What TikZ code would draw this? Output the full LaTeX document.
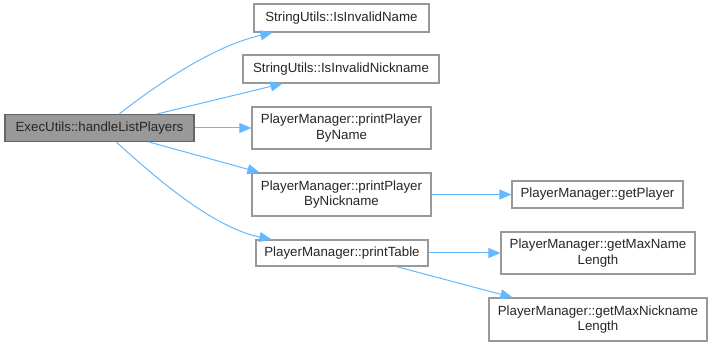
\documentclass[tikz,border=0pt]{standalone}
\usepackage{fontspec}
\setmainfont{Liberation Sans}
\usetikzlibrary{arrows.meta}
\definecolor{edgeblue}{HTML}{63B8FF}
\definecolor{boxline}{HTML}{999999}
\definecolor{hiline}{HTML}{666666}
\definecolor{hifill}{HTML}{999999}
\tikzset{
  fn/.style={draw=boxline, line width=1.2pt, fill=white, inner sep=0pt,
    align=center, font=\fontsize{13.3}{15.5}\selectfont, text=black!85},
  cur/.style={fn, draw=hiline, fill=hifill},
  call/.style={draw=edgeblue, line width=1pt,
    -{Triangle[length=12pt,width=10pt]}},
}
\begin{document}
\begin{tikzpicture}[x=1pt,y=-1pt]
\useasboundingbox (0,0) rectangle (713,347);
% function boxes: centre, width, height
\node[cur, minimum width=189pt, minimum height=27pt] (exec) at (99.5,128) {ExecUtils::handleListPlayers};
\node[fn, minimum width=175pt, minimum height=28pt] (ivn) at (341.5,18) {StringUtils::IsInvalidName};
\node[fn, minimum width=196pt, minimum height=28pt] (ivk) at (341,69) {StringUtils::IsInvalidNickname};
\node[fn, minimum width=179pt, minimum height=42pt] (ppn) at (341.5,128) {PlayerManager::printPlayer\\ByName};
\node[fn, minimum width=179pt, minimum height=43pt] (ppk) at (341.5,194.5) {PlayerManager::printPlayer\\ByNickname};
\node[fn, minimum width=172pt, minimum height=26pt] (pt) at (342,253) {PlayerManager::printTable};
\node[fn, minimum width=171pt, minimum height=27pt] (gp) at (597.5,194.5) {PlayerManager::getPlayer};
\node[fn, minimum width=194pt, minimum height=42pt] (gmn) at (598,253) {PlayerManager::getMaxName\\Length};
\node[fn, minimum width=218pt, minimum height=43pt] (gmk) at (598,319.5) {PlayerManager::getMaxNickname\\Length};
% connector end points on the box borders
\coordinate (s1) at ([xshift=115pt]exec.north west);
\coordinate (s2) at ([xshift=153pt]exec.north west);
\coordinate (s4) at ([xshift=145pt]exec.south west);
\coordinate (s5) at ([xshift=112pt]exec.south west);
\coordinate (s8) at ([xshift=141pt]pt.south west);
\coordinate (t1) at ([xshift=19pt]ivn.south west);
\coordinate (t2) at ([xshift=40pt]ivk.south west);
\coordinate (t4) at ([xshift=8pt]ppk.north west);
\coordinate (t5) at ([xshift=16pt]pt.north west);
\coordinate (t8) at ([xshift=24pt]gmk.north west);
% calls
\draw[call] (s1) .. controls (165,78) and (218,45) .. (t1);
\draw[call] (s2) -- (t2);
\draw[call] (exec.east) -- (ppn.west);
\draw[call] (s4) -- (t4);
\draw[call] (s5) .. controls (160,182) and (215,228) .. (t5);
\draw[call] (ppk.east) -- (gp.west);
\draw[call] (pt.east) -- (gmn.west);
\draw[call] (s8) -- (t8);
\end{tikzpicture}
\end{document}
